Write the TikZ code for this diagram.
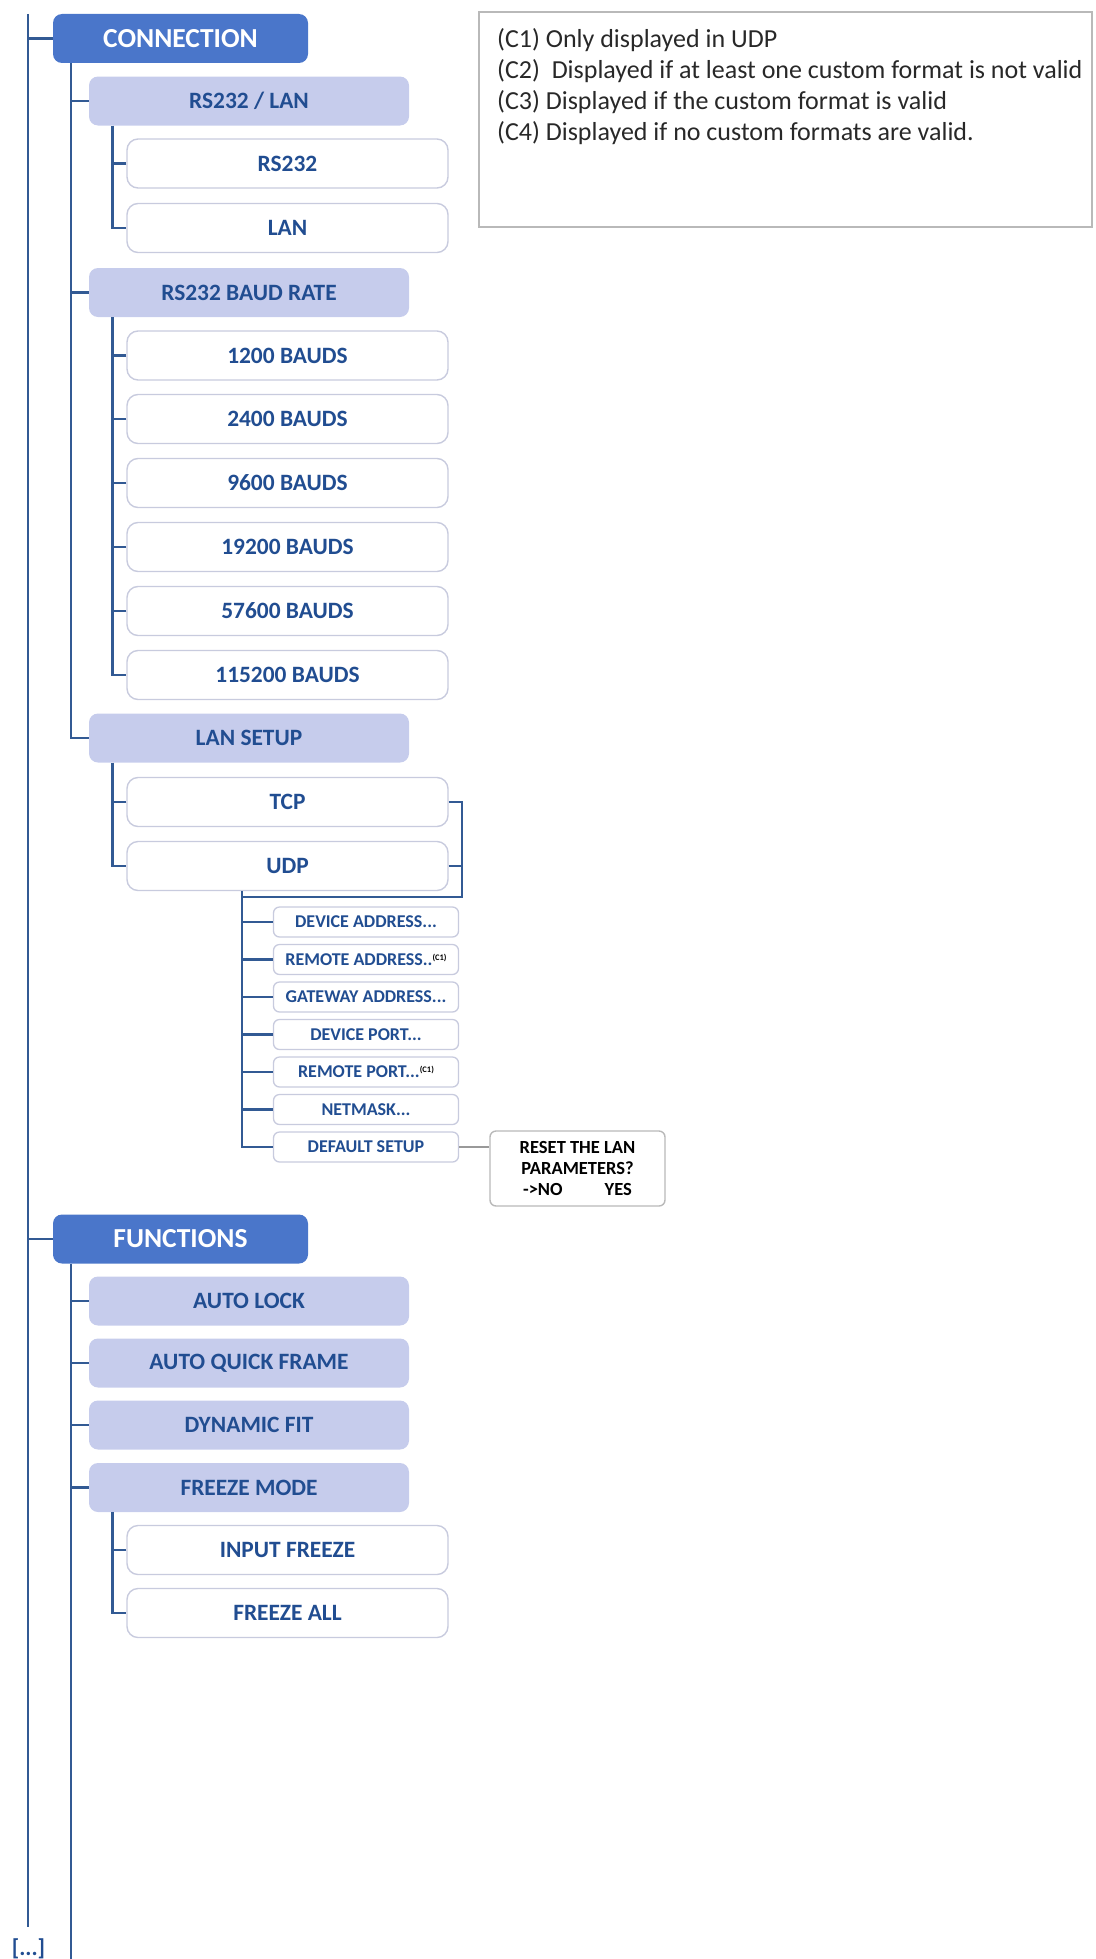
\documentclass[tikz,border=0pt]{standalone}
\usepackage{fontspec}
\setmainfont{Carlito}
\definecolor{lineblue}{RGB}{50,90,148}
\definecolor{txtblue}{RGB}{33,77,145}
\definecolor{lvlonefill}{RGB}{74,118,202}
\definecolor{lvltwofill}{RGB}{198,204,236}
\definecolor{boxborder}{RGB}{200,203,222}
\definecolor{graybdr}{RGB}{185,185,185}
\definecolor{legtext}{RGB}{40,40,40}
\tikzset{
  lvlone/.style={fill=lvlonefill, rounded corners=9pt, minimum width=255pt, minimum height=49pt, inner sep=0pt, text=white, font=\fontsize{27.5}{31}\selectfont\bfseries},
  lvltwo/.style={fill=lvltwofill, rounded corners=9pt, minimum width=320pt, minimum height=49pt, inner sep=0pt, text=txtblue, font=\fontsize{23.4}{27}\selectfont\bfseries},
  lvlthree/.style={fill=white, draw=boxborder, line width=1.4pt, rounded corners=11pt, minimum width=321pt, minimum height=49pt, inner sep=0pt, text=txtblue, font=\fontsize{23.4}{27}\selectfont\bfseries},
  lvlfour/.style={fill=white, draw=boxborder, line width=1.3pt, rounded corners=6pt, minimum width=185pt, minimum height=30pt, inner sep=0pt, text=txtblue, font=\fontsize{18}{21}\selectfont\bfseries},
  resetbox/.style={fill=white, draw=graybdr, line width=1.4pt, rounded corners=6pt, minimum width=175pt, minimum height=75pt, inner sep=0pt, text=black, align=center, font=\fontsize{18.5}{21}\selectfont\bfseries},
  legline/.style={anchor=base west, inner sep=0pt, text=legtext, font=\fontsize{26}{30}\selectfont},
  wire/.style={draw=lineblue, line width=2.8pt},
}
\newcommand{\cnote}{\raisebox{5pt}{\fontsize{8.5}{9}\selectfont\color{black}(C1)}}
\begin{document}
\begin{tikzpicture}[x=1pt,y=-1pt]
\useasboundingbox (0,0) rectangle (1095,1959);

% legend
\node[draw=graybdr, line width=1.8pt, minimum width=613pt, minimum height=215pt, inner sep=0pt] (legend) at (785.5,119.5) {};
\node[legline] (legone) at (497,48) {(C1) Only displayed in UDP};
\node[legline] (legtwo) at (497,78.7) {(C2)~ Displayed if at least one custom format is not valid};
\node[legline] (legthree) at (497,109.4) {(C3) Displayed if the custom format is valid};
\node[legline] (legfour) at (497,140.1) {(C4) Displayed if no custom formats are valid.};

% CONNECTION branch
\node[lvlone] (conn) at (180.5,38.5) {CONNECTION};
\node[lvltwo] (rslan) at (249,101) {RS232 / LAN};
\node[lvlthree] (rs) at (287.5,163.5) {RS232};
\node[lvlthree] (lan) at (287.5,228) {LAN};
\node[lvltwo] (baud) at (249,292.5) {RS232 BAUD RATE};
\node[lvlthree] (ba) at (287.5,355.5) {1200 BAUDS};
\node[lvlthree] (bb) at (287.5,419) {2400 BAUDS};
\node[lvlthree] (bc) at (287.5,483) {9600 BAUDS};
\node[lvlthree] (bd) at (287.5,547) {19200 BAUDS};
\node[lvlthree] (be) at (287.5,611) {57600 BAUDS};
\node[lvlthree] (bf) at (287.5,675) {115200 BAUDS};
\node[lvltwo] (lanset) at (249,738) {LAN SETUP};
\node[lvlthree] (tcp) at (287.5,802) {TCP};
\node[lvlthree] (udp) at (287.5,866) {UDP};

\node[lvlfour] (devaddr) at (366,922) {DEVICE ADDRESS...};
\node[lvlfour] (remaddr) at (366,959.5) {REMOTE ADDRESS..\cnote};
\node[lvlfour] (gateway) at (366,997) {GATEWAY ADDRESS...};
\node[lvlfour] (devport) at (366,1034.5) {DEVICE PORT...};
\node[lvlfour] (remport) at (366,1072) {REMOTE PORT...\cnote};
\node[lvlfour] (netmask) at (366,1109.5) {NETMASK...};
\node[lvlfour] (defset) at (366,1147) {DEFAULT SETUP};
\node[resetbox] (reset) at (577.5,1168.5) {RESET THE LAN\\PARAMETERS?\\->NO\hspace{42pt}YES};

% FUNCTIONS branch
\node[lvlone] (func) at (180.5,1239) {FUNCTIONS};
\node[lvltwo] (autolock) at (249,1301) {AUTO LOCK};
\node[lvltwo] (aqf) at (249,1363) {AUTO QUICK FRAME};
\node[lvltwo] (dynfit) at (249,1425) {DYNAMIC FIT};
\node[lvltwo] (frzmode) at (249,1487.5) {FREEZE MODE};
\node[lvlthree] (inpfrz) at (287.5,1550) {INPUT FREEZE};
\node[lvlthree] (frzall) at (287.5,1613) {FREEZE ALL};

\node[text=txtblue, font=\fontsize{23}{25}\selectfont\bfseries, inner sep=0pt] (ellip) at (28.5,1949) {[...]};

% trunk
\coordinate (trunktop) at (28,14);
\coordinate (trunkbot) at (28,1927);
\draw[wire] (trunktop) -- (trunkbot);
\draw[wire] (conn.west) -- (conn.west -| trunktop);
\draw[wire] (func.west) -- (func.west -| trunktop);

% connection rail
\coordinate (connrail) at (71,63);
\draw[wire] (connrail) |- (lanset.west);
\draw[wire] (rslan.west) -- (rslan.west -| connrail);
\draw[wire] (baud.west) -- (baud.west -| connrail);

% level three rails
\draw[wire] ([xshift=23.5pt]rslan.south west) |- (lan.west);
\draw[wire] (rs.west) -- ++(-15,0);
\draw[wire] ([xshift=23.5pt]baud.south west) |- (bf.west);
\foreach \n in {ba,bb,bc,bd,be} \draw[wire] (\n.west) -- ++(-15,0);
\draw[wire] ([xshift=23.5pt]lanset.south west) |- (udp.west);
\draw[wire] (tcp.west) -- ++(-15,0);

% TCP/UDP bracket
\coordinate (brk) at (462,897);
\coordinate (udprail) at (242,891);
\draw[wire] (tcp.east) -| (brk) -- (brk -| udprail);
\draw[wire] (udp.east) -- (udp.east -| brk);
\draw[wire] (udprail) |- (defset.west);
\foreach \n in {devaddr,remaddr,gateway,devport,remport,netmask} \draw[wire] (\n.west) -- (\n.west -| udprail);
\draw[draw=gray!80, line width=2.2pt] (defset.east) -- (defset.east -| reset.west);

% functions rail
\coordinate (funcrail) at (71,1263.5);
\coordinate (funcrailend) at (71,1959);
\draw[wire] (funcrail) -- (funcrailend);
\foreach \n in {autolock,aqf,dynfit,frzmode} \draw[wire] (\n.west) -- (\n.west -| funcrail);
\draw[wire] ([xshift=23.5pt]frzmode.south west) |- (frzall.west);
\draw[wire] (inpfrz.west) -- ++(-15,0);
\end{tikzpicture}
\end{document}
